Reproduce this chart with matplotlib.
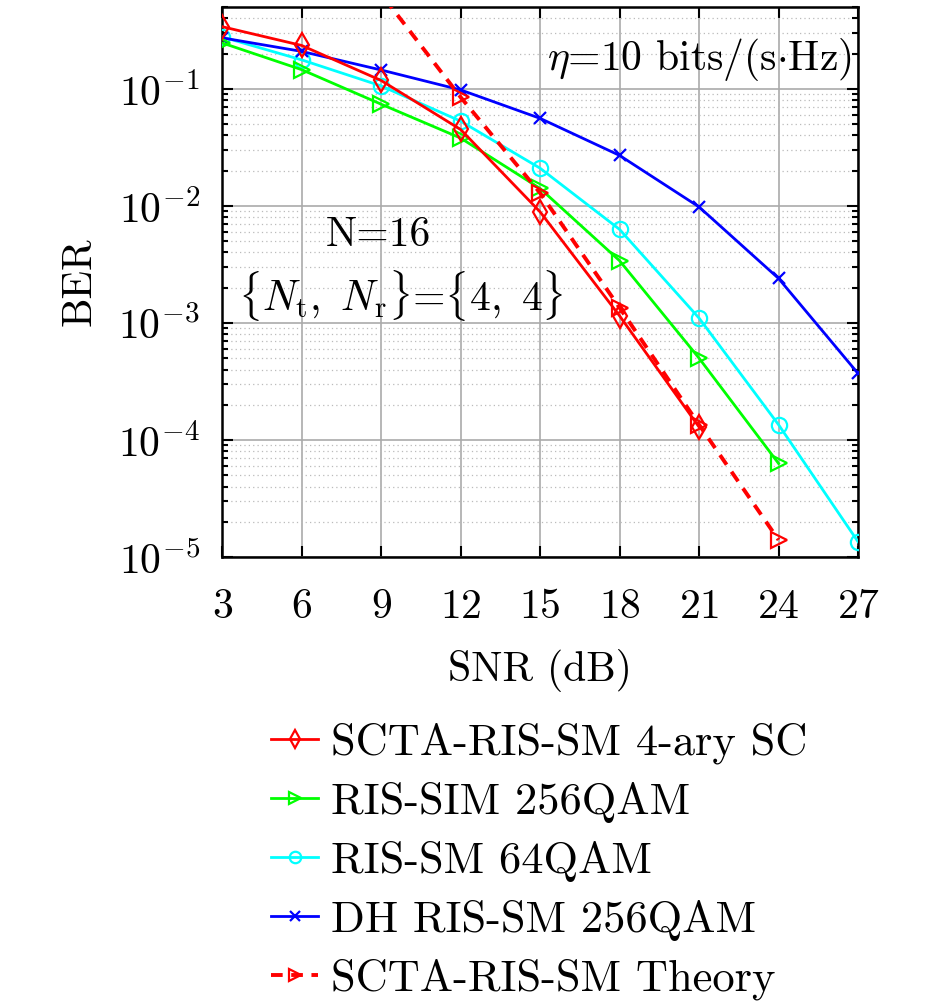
"""
BER vs SNR comparison for SCTA-RIS-SM and the reference RIS schemes.
"""

import matplotlib

matplotlib.use("Agg")
import matplotlib.pyplot as plt
from matplotlib.ticker import LogLocator, NullFormatter

plt.rcParams["font.family"] = "serif"
plt.rcParams["font.serif"] = ["cmr10"]
plt.rcParams["mathtext.fontset"] = "cm"
plt.rcParams["axes.formatter.use_mathtext"] = True

# SNR grid (dB)
snr_full = [3, 6, 9, 12, 15, 18, 21, 24, 27]
snr_scta = [3, 6, 9, 12, 15, 18, 21]
snr_sim = [3, 6, 9, 12, 15, 18, 21, 24]
snr_theory = [9, 12, 15, 18, 21, 24]

# BER
ber_scta = [0.34, 0.235, 0.118, 0.045, 0.0089, 1.15e-3, 1.29e-4]
ber_sim = [0.247, 0.146, 0.074, 0.038, 0.0141, 3.4e-3, 5.0e-4, 6.3e-5]
ber_sm64 = [0.278, 0.177, 0.106, 0.053, 0.021, 6.3e-3, 1.1e-3, 1.35e-4, 1.35e-5]
ber_dh = [0.273, 0.209, 0.145, 0.098, 0.056, 0.027, 9.8e-3, 2.4e-3, 3.7e-4]
ber_theory = [0.65, 0.085, 0.0129, 1.35e-3, 1.35e-4, 1.4e-5]

labels = [
    "SCTA-RIS-SM 4-ary SC",
    "RIS-SIM 256QAM",
    "RIS-SM 64QAM",
    "DH RIS-SM 256QAM",
    "SCTA-RIS-SM Theory",
]

FS = 30
LW = 2.0
MS = 11
MEW = 1.6

fig = plt.figure(figsize=(9.45, 10.08), dpi=100)
ax = fig.add_axes([0.235, 0.4474, 0.673, 0.5456])

ax.semilogy(snr_scta, ber_scta, "-", color="red", marker="d", ms=MS + 1,
            mfc="none", mew=MEW, lw=LW, label=labels[0], zorder=5)
ax.semilogy(snr_sim, ber_sim, "-", color=(0, 1, 0), marker=">", ms=MS,
            mfc="none", mew=MEW, lw=LW, label=labels[1], zorder=4)
ax.semilogy(snr_full, ber_sm64, "-", color="cyan", marker="o", ms=MS,
            mfc="none", mew=MEW, lw=LW, label=labels[2], zorder=3)
ax.semilogy(snr_full, ber_dh, "-", color="blue", marker="x", ms=MS - 2,
            mew=MEW, lw=LW, label=labels[3], zorder=3)
ax.semilogy(snr_theory, ber_theory, "--", color="red", marker=">", ms=MS,
            mfc="none", mew=MEW, lw=LW + 0.8, dashes=(3, 2.2),
            label=labels[4], zorder=6)

ax.set_xlim(3, 27)
ax.set_ylim(1e-5, 0.5)
ax.set_xticks(snr_full)
ax.yaxis.set_major_locator(LogLocator(base=10, numticks=10))
ax.yaxis.set_minor_locator(LogLocator(base=10, subs=range(2, 10), numticks=20))
ax.yaxis.set_minor_formatter(NullFormatter())

ax.grid(True, which="major", color="#aaaaaa", lw=1.2, ls="-")
ax.grid(True, which="minor", color="#bbbbbb", lw=0.9, ls=(0, (1, 2.5)))
ax.set_axisbelow(True)

ax.tick_params(which="both", direction="in", top=True, right=True,
               labelsize=FS, width=1.5)
ax.tick_params(which="major", length=8)
ax.tick_params(which="minor", length=4)
ax.tick_params(axis="x", which="major", pad=23)
ax.tick_params(axis="y", which="major", pad=16)
for spine in ax.spines.values():
    spine.set_linewidth(1.8)

ax.set_xlabel("SNR (dB)", fontsize=FS, labelpad=16)
ax.set_ylabel("BER", fontsize=FS, labelpad=14)

ax.text(0.99, 0.905, r"$\eta$=10 bits/(s$\cdot$Hz)", transform=ax.transAxes,
        ha="right", va="center", fontsize=FS)
ax.text(0.245, 0.585, "N=16", transform=ax.transAxes,
        ha="center", va="center", fontsize=FS)
ax.text(0.025, 0.475, r"$\{N_\mathrm{t},\ N_\mathrm{r}\}$=$\{4,\ 4\}$",
        transform=ax.transAxes, ha="left", va="center", fontsize=FS)

fig.legend(loc="upper left", bbox_to_anchor=(0.287, 0.283), frameon=False,
           fontsize=32, handlelength=1.05, handletextpad=0.3,
           labelspacing=0.4, borderpad=0, borderaxespad=0, markerscale=0.75)

fig.savefig("out.png", dpi=100)
